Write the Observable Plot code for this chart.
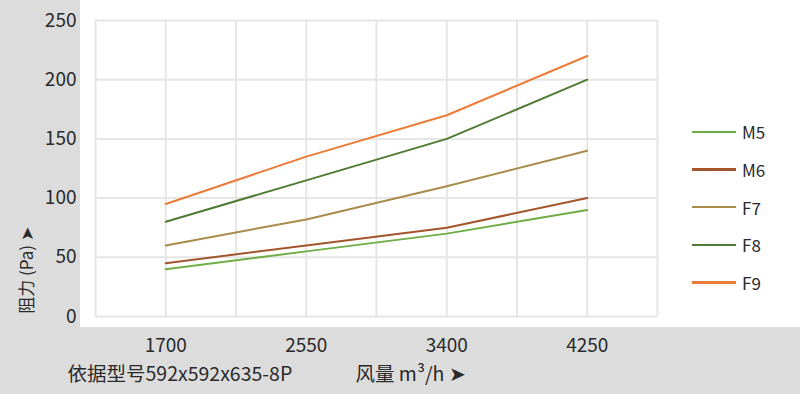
<!DOCTYPE html>
<html>
<head>
<meta charset="utf-8">
<script src="https://cdn.jsdelivr.net/npm/d3@7"></script>
<script src="https://cdn.jsdelivr.net/npm/@observablehq/plot@0.6"></script>
<style>
  html, body { margin: 0; padding: 0; background: #dcdcdc; }
  #wrap { position: relative; width: 800px; height: 394px; overflow: hidden; font-family: "Noto Sans CJK SC", "Noto Sans", sans-serif; }
  #white { position: absolute; left: 80px; top: 0; width: 720px; height: 327px; background: #fff; }
  #chart { position: absolute; left: 0; top: 0; }
  #legend { position: absolute; left: 692px; top: 113px; }
  .item { display: flex; align-items: center; height: 37.7px; }
  .swatch { width: 44px; height: 2.5px; margin-right: 6px; }
  .lab { font-size: 17px; color: #2a2a2a; line-height: 1; }
</style>
</head>
<body>
<div id="wrap">
  <div id="white"></div>
  <div id="chart"></div>
  <div id="legend"></div>
</div>
<script>
const airflow = [1700, 2550, 3400, 4250];
const seriesNames = ["M5", "M6", "F7", "F8", "F9"];
const M5 = [40, 55, 70, 90];
const M6 = [45, 60, 75, 100];
const F7 = [60, 82, 110, 140];
const F8 = [80, 115, 150, 200];
const F9 = [95, 135, 170, 220];
const seriesColors = ["#6fae44", "#a3552c", "#a98c4c", "#4f7b34", "#ec7b37"];
const yTicks = [0, 50, 100, 150, 200, 250];
const xGrid = [1275, 1700, 2125, 2550, 2975, 3400, 3825, 4250, 4675];
const yLabel = "阻力 (Pa) ➤";
const noteLabel = "依据型号592x592x635-8P";
const xLabel = "风量 m³/h ➤";

const valuesBySeries = {M5, M6, F7, F8, F9};
const data = seriesNames.flatMap(s => airflow.map((a, i) => ({series: s, airflow: a, value: valuesBySeries[s][i]})));

const font = '"Noto Sans CJK SC", "Noto Sans", sans-serif';

const chart = Plot.plot({
  width: 800,
  height: 394,
  marginLeft: 95,
  marginRight: 143,
  marginTop: 20,
  marginBottom: 78,
  style: {background: "transparent", fontFamily: font, color: "#2a2a2a"},
  x: {domain: [1275, 4675]},
  y: {domain: [0, 250]},
  color: {domain: seriesNames, range: seriesColors},
  marks: [
    Plot.gridX(xGrid, {stroke: "#e6e6e6", strokeOpacity: 1, strokeWidth: 2}),
    Plot.gridY(yTicks, {stroke: "#e6e6e6", strokeOpacity: 1, strokeWidth: 2}),
    Plot.axisY(yTicks, {tickSize: 0, tickPadding: 19, fontSize: 19, fill: "#2a2a2a", label: null}),
    Plot.axisX(airflow, {tickSize: 0, tickPadding: 22, fontSize: 19, fill: "#2a2a2a", label: null, tickFormat: d => String(d)}),
    Plot.line(data, {x: "airflow", y: "value", z: "series", stroke: "series", strokeWidth: 2, strokeLinejoin: "round"}),
    Plot.text([yLabel], {text: d => d, frameAnchor: "left", dx: -68, dy: 102, rotate: -90, textAnchor: "middle", fontSize: 17, fill: "#2a2a2a"}),
    Plot.text([noteLabel], {text: d => d, frameAnchor: "bottom-left", dx: -28, dy: 64, textAnchor: "start", fontSize: 19.5, fill: "#2a2a2a"}),
    Plot.text([xLabel], {text: d => d, frameAnchor: "bottom-left", dx: 260, dy: 64, textAnchor: "start", fontSize: 19.5, fill: "#2a2a2a"})
  ]
});
document.getElementById("chart").appendChild(chart);

const legend = document.getElementById("legend");
seriesNames.forEach((s, i) => {
  const it = document.createElement("div");
  it.className = "item";
  it.innerHTML = `<div class="swatch" style="background:${seriesColors[i]}"></div><span class="lab">${s}</span>`;
  legend.appendChild(it);
});
</script>
</body>
</html>
